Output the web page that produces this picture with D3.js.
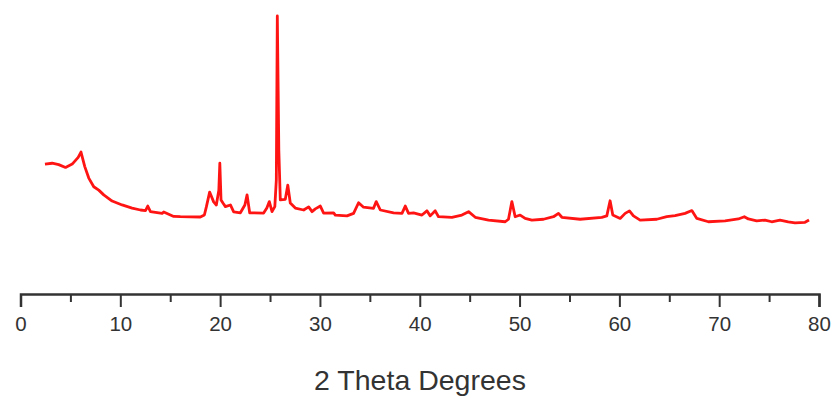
<!DOCTYPE html>
<html>
<head>
<meta charset="utf-8">
<script src="https://cdn.jsdelivr.net/npm/d3@7"></script>
<style>
  body { margin: 0; background: #fff; }
  svg { display: block; }
  .axis path, .axis line { stroke: #333; }
  .axis text { font-family: "Liberation Sans", Arial, sans-serif; fill: #333; }
</style>
</head>
<body>
<script>
// 2 theta positions (degrees)
var twoTheta = [2.45, 3.17, 3.83, 4.51, 5.18, 5.78, 6.06, 6.44, 6.84, 7.34, 7.84, 8.34, 9.18, 10.18, 11.18,
  12.02, 12.52, 12.75, 13.02, 14.19, 14.35, 15.35, 16.02, 18.02, 18.42, 18.62, 18.95, 19.35, 19.62, 19.87,
  19.97, 20.09, 20.30, 20.53, 21.03, 21.36, 22.03, 22.48, 22.70, 22.96, 24.36, 24.68, 24.93, 25.20, 25.48,
  25.63, 25.73, 25.88, 26.03, 26.53, 26.78, 27.03, 27.53, 28.37, 28.87, 29.21, 29.54, 30.04, 30.37, 31.37,
  31.54, 32.71, 33.37, 33.87, 34.37, 35.37, 35.64, 36.05, 37.38, 38.22, 38.55, 38.88, 39.38, 40.22, 40.72,
  41.05, 41.55, 41.88, 43.22, 44.22, 44.89, 45.56, 46.89, 48.56, 48.89, 49.23, 49.56, 50.06, 50.56, 51.23,
  52.40, 53.40, 53.90, 54.24, 56.07, 58.24, 58.74, 59.07, 59.34, 60.08, 60.58, 61.01, 61.41, 62.08, 63.75,
  64.75, 65.58, 66.58, 67.26, 67.76, 68.92, 70.59, 71.92, 72.52, 72.92, 73.76, 74.59, 75.26, 76.09, 76.92,
  77.60, 78.60, 79.00];

// intensity (arbitrary counts)
var intensity = [464, 467, 462, 452, 464, 488, 507, 455, 414, 383, 371, 354, 332, 318, 307,
  300, 298, 314, 294, 288, 293, 277, 276, 275, 282, 311, 364, 329, 318, 371,
  467, 336, 324, 312, 318, 293, 290, 318, 354, 290, 289, 307, 330, 294, 312,
  407, 993, 514, 336, 338, 389, 325, 307, 300, 311, 294, 304, 314, 289, 290,
  282, 279, 288, 326, 310, 306, 330, 300, 290, 288, 314, 288, 290, 282, 297,
  279, 297, 276, 274, 282, 294, 274, 264, 258, 267, 330, 276, 282, 270, 264,
  267, 276, 288, 274, 267, 274, 279, 333, 282, 270, 288, 297, 279, 264, 267,
  276, 280, 288, 298, 270, 258, 261, 268, 276, 268, 261, 264, 258, 264, 258,
  254, 256, 264];

var xTicks = [0, 10, 20, 30, 40, 50, 60, 70, 80];
var xMinorTicks = [5, 15, 25, 35, 45, 55, 65, 75];

var data = twoTheta.map(function (t, i) { return { t: t, v: intensity[i] }; });

var width = 835, height = 397;

var svg = d3.select("body").append("svg")
    .attr("width", width)
    .attr("height", height);

var x = d3.scaleLinear().domain([0, 80]).range([20.5, 819]);
var y = d3.scaleLinear().domain([0, 1000]).range([294, 14]);

// minor ticks
svg.append("g")
    .attr("class", "axis")
    .attr("transform", "translate(0,294)")
    .call(d3.axisBottom(x).tickValues(xMinorTicks).tickSize(8).tickFormat(""))
    .call(g => g.select(".domain").remove())
    .selectAll("line").attr("stroke-width", 2);

// main axis
var xAxis = svg.append("g")
    .attr("class", "axis")
    .attr("transform", "translate(0,294)")
    .call(d3.axisBottom(x).tickValues(xTicks).tickSize(13).tickSizeOuter(13).tickPadding(10));

xAxis.select(".domain").attr("stroke-width", 2.5);
xAxis.selectAll("line").attr("stroke-width", 2);
xAxis.selectAll("text")
    .attr("font-size", 20.5)
    .attr("dy", null)
    .attr("y", 36.5);

svg.append("text")
    .attr("x", 420)
    .attr("y", 390)
    .attr("text-anchor", "middle")
    .attr("font-family", "Liberation Sans, Arial, sans-serif")
    .attr("font-size", 28.5)
    .attr("fill", "#333")
    .text("2 Theta Degrees");

var line = d3.line()
    .x(d => x(d.t))
    .y(d => y(d.v));

svg.append("path")
    .datum(data)
    .attr("fill", "none")
    .attr("stroke", "#ff1414")
    .attr("stroke-width", 2.8)
    .attr("stroke-linejoin", "round")
    .attr("d", line);
</script>
</body>
</html>
